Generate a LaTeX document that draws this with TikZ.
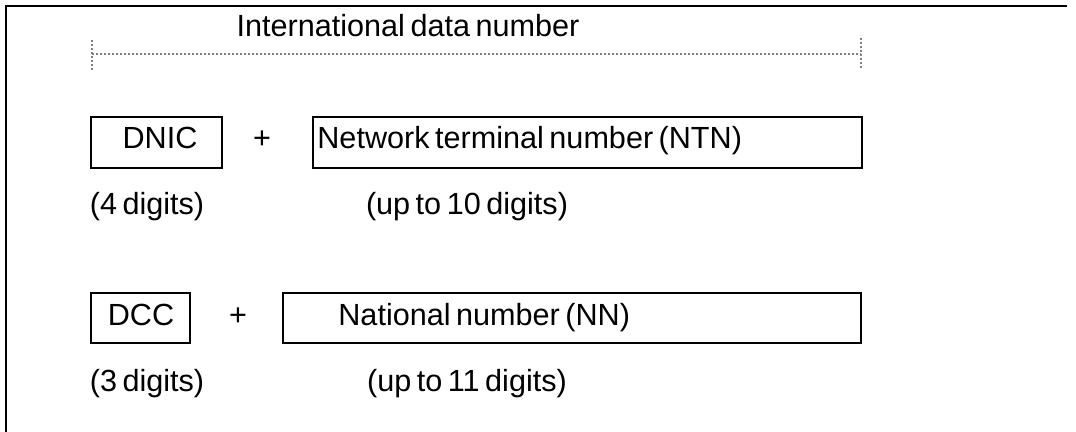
\documentclass[tikz,border=0pt]{standalone}
\usepackage{fontspec}
\setmainfont{Liberation Sans}[WordSpace=0.65]
\begin{document}
\begin{tikzpicture}[x=0.5pt,y=-0.5pt,
  box/.style={draw=black, line width=1.3pt, rectangle, inner sep=0pt},
  lbl/.style={inner sep=0pt, anchor=base, font=\fontsize{15.3pt}{18pt}\selectfont},
  frameline/.style={line width=1.4pt, black},
  dimline/.style={gray, line width=0.6pt, dash pattern=on 1pt off 1pt}]
\useasboundingbox (0,0) rectangle (1076,432);
% frame (top and left)
\coordinate (fBL) at (6,432);
\coordinate (fTL) at (6,6);
\coordinate (fTR) at (1067,6);
\draw[frameline] (fBL) -- (fTL) -- (fTR);
% dimension line
\coordinate (dL1) at (92,40);
\coordinate (dL2) at (92,71);
\coordinate (dLm) at (92,54);
\coordinate (dR1) at (861,38);
\coordinate (dR2) at (861,68);
\coordinate (dRm) at (861,54);
\draw[dimline] (dL1) -- (dL2);
\draw[dimline] (dR1) -- (dR2);
\draw[dimline] (dLm) -- (dRm);
\node[lbl] (title) at (408,37) {International data number};
% row 1
\node[box, minimum width=131*0.5pt, minimum height=51*0.5pt] (dnic) at (156.5,142.5) {};
\node[lbl] (dnict) at (160,149) {DNIC};
\node[lbl] (plus1) at (262,149) {+};
\node[box, minimum width=549*0.5pt, minimum height=51*0.5pt] (ntn) at (587.5,142.5) {};
\node[lbl, anchor=base west] (ntnt) at (317,149) {Network terminal number (NTN)};
\node[lbl] (d4) at (147,215) {(4 digits)};
\node[lbl] (d10) at (467,215) {(up to 10 digits)};
% row 2
\node[box, minimum width=99*0.5pt, minimum height=50*0.5pt] (dcc) at (140.5,318) {};
\node[lbl] (dcct) at (141,326) {DCC};
\node[lbl] (plus2) at (238,326) {+};
\node[box, minimum width=578*0.5pt, minimum height=50*0.5pt] (nn) at (572,318) {};
\node[lbl, anchor=base west] (nnt) at (338,326) {National number (NN)};
\node[lbl] (d3) at (147,392) {(3 digits)};
\node[lbl] (d11) at (467,392) {(up to 11 digits)};
\end{tikzpicture}
\end{document}
